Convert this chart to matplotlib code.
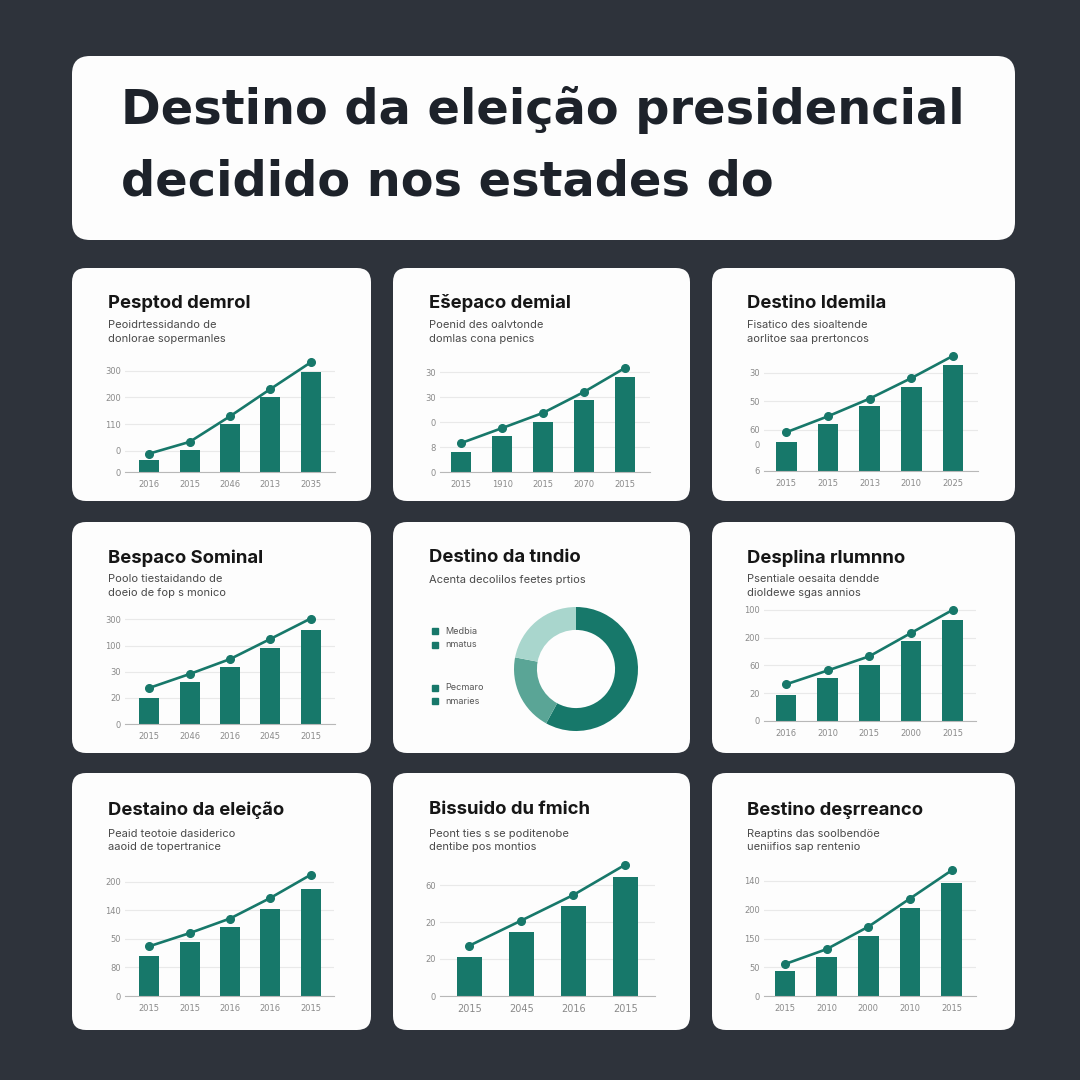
import matplotlib.pyplot as plt
from matplotlib.patches import FancyBboxPatch, Rectangle

BG = "#2e333b"
CARD = "#fdfdfd"
TEAL = "#17786a"
W = H = 1080

title_lines = ["Destino da eleição presidencial", "decidido nos estades do"]

# --- panel data (bar heights / line points in gridline units) ---
p1_title = "Pesptod demrol"
p1_sub = ["Peoidrtessidando de", "donlorae sopermanles"]
p1_years = ["2016", "2015", "2046", "2013", "2035"]
p1_bars = [0.44, 0.81, 1.81, 2.80, 3.75]
p1_line = [0.69, 1.13, 2.09, 3.11, 4.11]
p1_ticks = [0, 0.8, 1.8, 2.8, 3.8]
p1_labels = ["0", "0", "110", "200", "300"]

p2_title = "Ešepaco demial"
p2_sub = ["Poenid des oalvtonde", "domlas cona penics"]
p2_years = ["2015", "1910", "2015", "2070", "2015"]
p2_bars = [0.80, 1.45, 2.00, 2.87, 3.81]
p2_line = [1.16, 1.76, 2.37, 3.21, 4.17]
p2_ticks = [0, 1, 2, 3, 4]
p2_labels = ["0", "8", "0", "30", "30"]

p3_title = "Destino Idemila"
p3_sub = ["Fisatico des sioaltende", "aorlitoe saa prertoncos"]
p3_years = ["2015", "2015", "2013", "2010", "2025"]
p3_bars = [1.02, 1.64, 2.27, 2.96, 3.71]
p3_line = [1.36, 1.92, 2.54, 3.26, 4.04]
p3_ticks = [0, 0.94, 1.44, 2.44, 3.44]
p3_labels = ["6", "0", "60", "50", "30"]

p4_title = "Bespaco Sominal"
p4_sub = ["Poolo tiestaidando de", "doeio de fop s monico"]
p4_years = ["2015", "2046", "2016", "2045", "2015"]
p4_bars = [0.99, 1.59, 2.18, 2.90, 3.58]
p4_line = [1.38, 1.91, 2.48, 3.25, 4.03]
p4_ticks = [0, 1, 2, 3, 4]
p4_labels = ["0", "20", "30", "100", "300"]

p5_title = "Destino da tındio"
p5_sub = ["Acenta decolilos feetes prtios"]
p5_values = [58, 20, 22]
p5_legend = ["Medbia", "nmatus", "Pecmaro", "nmaries"]

p6_title = "Desplina rlumnno"
p6_sub = ["Psentiale oesaita dendde", "dioldewe sgas annios"]
p6_years = ["2016", "2010", "2015", "2000", "2015"]
p6_bars = [0.95, 1.54, 2.00, 2.89, 3.63]
p6_line = [1.32, 1.82, 2.33, 3.17, 4.00]
p6_ticks = [0, 1, 2, 3, 4]
p6_labels = ["0", "20", "60", "200", "100"]

p7_title = "Destaino da eleição"
p7_sub = ["Peaid teotoie dasiderico", "aaoid de topertranice"]
p7_years = ["2015", "2015", "2016", "2016", "2015"]
p7_bars = [1.39, 1.89, 2.41, 3.03, 3.76]
p7_line = [1.74, 2.20, 2.71, 3.43, 4.24]
p7_ticks = [0, 1, 2, 3, 4]
p7_labels = ["0", "80", "50", "140", "200"]

p8_title = "Bissuido du fmich"
p8_sub = ["Peont ties s se poditenobe", "dentibe pos montios"]
p8_years = ["2015", "2045", "2016", "2015"]
p8_bars = [1.05, 1.72, 2.43, 3.21]
p8_line = [1.36, 2.04, 2.73, 3.55]
p8_ticks = [0, 1, 2, 3]
p8_labels = ["0", "20", "20", "60"]

p9_title = "Bestino deşrreanco"
p9_sub = ["Reaptins das soolbendöe", "ueniifios sap rentenio"]
p9_years = ["2015", "2010", "2000", "2010", "2015"]
p9_bars = [0.88, 1.36, 2.08, 3.06, 3.93]
p9_line = [1.11, 1.63, 2.41, 3.39, 4.37]
p9_ticks = [0, 1, 2, 3, 4]
p9_labels = ["0", "50", "150", "200", "140"]


def fx(x):
    return x / W


def fy(y):
    return 1 - y / H


def card(fig, x0, y0, x1, y1, r):
    fig.add_artist(FancyBboxPatch((fx(x0), fy(y1)), (x1 - x0) / W, (y1 - y0) / H,
                                  boxstyle=f"round,pad=0,rounding_size={r / W}",
                                  transform=fig.transFigure, facecolor=CARD,
                                  edgecolor="none", zorder=0))


def headings(fig, x, y, title, sub, sub_y):
    fig.text(fx(x), fy(y), title, fontsize=13.3, fontweight="bold", color="#161616",
             family=["Inter", "DejaVu Sans"], va="center", ha="left")
    for i, s in enumerate(sub):
        fig.text(fx(x), fy(sub_y + 13.5 * i), s, fontsize=8, color="#4a4a4a",
                 family=["Inter", "DejaVu Sans"], va="center", ha="left")


def bar_panel(fig, left, right, base, unit, first, step, years, bars, line,
              ticks, labels, ymax=4.5, hide=None, xfs=6):
    n = len(years)
    xlo = (left - first) / step
    xhi = xlo + (right - left) / step
    ax = fig.add_axes([fx(left), fy(base), (right - left) / W, ymax * unit / H])
    x = list(range(n))
    ax.bar(x, bars, width=0.49, color=TEAL, zorder=2)
    ax.plot(x, line, color=TEAL, lw=1.9, marker="o", ms=5.5, zorder=3, clip_on=False)
    ax.set_xlim(xlo, xhi)
    ax.set_ylim(0, ymax)
    ax.set_yticks(ticks)
    ax.set_yticklabels(labels)
    ax.set_xticks(x)
    ax.set_xticklabels(years)
    ax.grid(axis="y", color="#e9e9e9", lw=0.8)
    ax.set_axisbelow(True)
    if hide is not None:
        ax.get_ygridlines()[hide].set_visible(False)
    for s in ["top", "right", "left"]:
        ax.spines[s].set_visible(False)
    ax.spines["bottom"].set_color("#b8b8b8")
    ax.tick_params(axis="y", length=0, labelsize=6, labelcolor="#8a8a8a", pad=3)
    ax.tick_params(axis="x", length=0, labelsize=xfs, labelcolor="#8a8a8a", pad=6)
    ax.patch.set_visible(False)
    return ax


fig = plt.figure(figsize=(10.8, 10.8), dpi=100, facecolor=BG)

# title card
card(fig, 72, 56, 1015, 240, 18)
fig.text(fx(121), fy(110), title_lines[0], fontsize=34.5, fontweight="bold",
         color="#1d222a", family=["DejaVu Sans"], va="center")
fig.text(fx(121), fy(182), title_lines[1], fontsize=34.5, fontweight="bold",
         color="#1d222a", family=["DejaVu Sans"], va="center")

cols = [(72, 371), (393, 690), (712, 1015)]
rows = [(268, 501), (522, 753), (773, 1030)]
for (cx0, cx1) in cols:
    for (ry0, ry1) in rows:
        card(fig, cx0, ry0, cx1, ry1, 14)

# row 1
headings(fig, 108, 303, p1_title, p1_sub, 325)
bar_panel(fig, 125, 335, 472, 80 / 3, 72 + 232 / 3, 121 / 3,
          p1_years, p1_bars, p1_line, p1_ticks, p1_labels)
headings(fig, 429, 303, p2_title, p2_sub, 325)
bar_panel(fig, 440, 650, 472, 75 / 3, 393 + 205 / 3, 123 / 3,
          p2_years, p2_bars, p2_line, p2_ticks, p2_labels)
headings(fig, 747, 303, p3_title, p3_sub, 325)
bar_panel(fig, 764, 978, 471, 85.5 / 3, 711 + 226 / 3, 125 / 3,
          p3_years, p3_bars, p3_line, p3_ticks, p3_labels, ymax=4.2, hide=1)

# row 2
headings(fig, 108, 558, p4_title, p4_sub, 579)
bar_panel(fig, 125, 335, 724, 78.5 / 3, 72 + 232 / 3, 121 / 3,
          p4_years, p4_bars, p4_line, p4_ticks, p4_labels)
headings(fig, 429, 558, p5_title, p5_sub, 580)

# donut
r = 62
axd = fig.add_axes([fx(576 - r), fy(669 + r), 2 * r / W, 2 * r / H])
axd.pie(p5_values, colors=[TEAL, "#5aa596", "#a9d6cd"], startangle=90,
        counterclock=False, radius=1, wedgeprops=dict(width=0.37, edgecolor="none"))
axd.set_xlim(-1, 1)
axd.set_ylim(-1, 1)
axd.set_aspect("equal")
axd.axis("off")
for lab, ly in zip(p5_legend, [631, 644.5, 688, 701]):
    fig.add_artist(Rectangle((fx(432), fy(ly + 3)), 6 / W, 6 / H, color=TEAL,
                             transform=fig.transFigure))
    fig.text(fx(445), fy(ly), lab, fontsize=6.5, color="#555555", va="center",
             family=["Inter", "DejaVu Sans"])

headings(fig, 747, 558, p6_title, p6_sub, 579)
bar_panel(fig, 764, 976, 721, 83.3 / 3, 711 + 225 / 3, 125 / 3,
          p6_years, p6_bars, p6_line, p6_ticks, p6_labels, ymax=4.2)

# row 3
headings(fig, 108, 810, p7_title, p7_sub, 834)
bar_panel(fig, 125, 334, 996, 85.75 / 3, 72 + 232 / 3, 121 / 3,
          p7_years, p7_bars, p7_line, p7_ticks, p7_labels)
headings(fig, 429, 810, p8_title, p8_sub, 834)
bar_panel(fig, 440, 655, 996, 111 / 3, 393 + 229 / 3, 156 / 3,
          p8_years, p8_bars, p8_line, p8_ticks, p8_labels, ymax=3.7, xfs=7)
headings(fig, 747, 810, p9_title, p9_sub, 834)
bar_panel(fig, 764, 976, 996, 86.25 / 3, 711 + 222 / 3, 125 / 3,
          p9_years, p9_bars, p9_line, p9_ticks, p9_labels, ymax=4.5)

fig.savefig("out.png", dpi=100, facecolor=BG)
